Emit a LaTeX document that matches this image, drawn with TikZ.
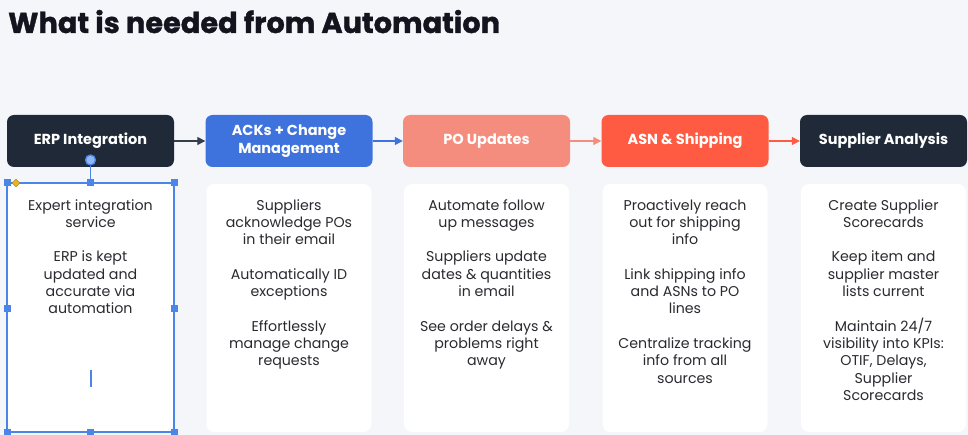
\documentclass[tikz,border=0pt]{standalone}
\usepackage{fontspec}
\setmainfont{Poppins}
\newfontfamily\titlefont{Poppins}[BoldFeatures={FakeBold=1.2}]
\usetikzlibrary{arrows.meta,shapes.geometric}
\definecolor{bgc}{HTML}{F4F6FA}
\definecolor{darkc}{HTML}{1F2937}
\definecolor{bluec}{HTML}{3E72DD}
\definecolor{salmonc}{HTML}{F58D7E}
\definecolor{redc}{HTML}{FF5A42}
\definecolor{selc}{HTML}{4A86E8}
\definecolor{yelc}{HTML}{E8B520}
\definecolor{txtc}{HTML}{2A2A30}
\definecolor{titlec}{HTML}{14141E}
\tikzset{
  head/.style={rounded corners=7pt, minimum width=167pt, minimum height=52pt,
    inner sep=0pt, align=center, text=white,
    font=\bfseries\fontsize{14.5}{18}\selectfont},
  bodybox/.style={rounded corners=8pt, fill=white, minimum width=165pt,
    minimum height=248pt, inner sep=0pt},
  bodytext/.style={anchor=north, inner sep=0pt, align=center, text=txtc,
    font=\fontsize{14.2}{17.3}\selectfont},
  flow/.style={line width=1.3pt, -{Triangle[length=8pt,width=8pt]}},
  handle/.style={fill=selc, minimum size=7pt, inner sep=0pt},
}
\begin{document}
\begin{tikzpicture}[x=1pt,y=-1pt]
\fill[bgc] (0,0) rectangle (968,435);
\useasboundingbox (0,0) rectangle (968,435);
% title
\node[anchor=base west, inner sep=0pt, text=titlec,
  font=\titlefont\bfseries\fontsize{28.8}{32}\selectfont] (title) at (8,33) {What is needed from Automation};
% headers
\node[head, fill=darkc] (h1) at (90.5,141) {ERP Integration};
\node[head, fill=bluec] (h2) at (289,141) {ACKs + Change\\Management};
\node[head, fill=salmonc] (h3) at (486.5,141) {PO Updates};
\node[head, fill=redc] (h4) at (685,141) {ASN \& Shipping};
\node[head, fill=darkc] (h5) at (883.5,141) {Supplier Analysis};
% arrows
\draw[flow, draw=darkc!90, fill=darkc!90] (h1) -- (h2);
\draw[flow, draw=bluec, fill=bluec] (h2) -- (h3);
\draw[flow, draw=salmonc, fill=salmonc] (h3) -- (h4);
\draw[flow, draw=redc, fill=redc] (h4) -- (h5);
% bodies
\node[bodybox] (b1) at (90.5,308) {};
\node[bodybox] (b2) at (289,308) {};
\node[bodybox] (b3) at (486.5,308) {};
\node[bodybox] (b4) at (685,308) {};
\node[bodybox] (b5) at (883.5,308) {};
\node[bodytext] (t1) at (90.5,199) {Expert integration\\service\\[17.3pt]ERP is kept\\updated and\\accurate via\\automation};
\node[bodytext] (t2) at (289,199) {Suppliers\\acknowledge POs\\in their email\\[17.3pt]Automatically ID\\exceptions\\[17.3pt]Effortlessly\\manage change\\requests};
\node[bodytext] (t3) at (486.5,199) {Automate follow\\up messages\\[17.3pt]Suppliers update\\dates \& quantities\\in email\\[17.3pt]See order delays \&\\problems right\\away};
\node[bodytext] (t4) at (685,199) {Proactively reach\\out for shipping\\info\\[17.3pt]Link shipping info\\and ASNs to PO\\lines\\[17.3pt]Centralize tracking\\info from all\\sources};
\node[bodytext] (t5) at (883.5,199) {Create Supplier\\Scorecards\\[17.3pt]Keep item and\\supplier master\\lists current\\[17.3pt]Maintain 24/7\\visibility into KPIs:\\OTIF, Delays,\\Supplier\\Scorecards};
% selection overlay on first body box
\draw[selc, line width=1.3pt] (7,183) rectangle (174,432);
\node[circle, draw=selc, fill=selc!60, line width=1.3pt, minimum size=10pt, inner sep=0pt] (rot) at (90.5,160) {};
\node[handle] (hn) at (90.5,183) {};
\draw[selc, line width=1.3pt] (rot) -- (hn);
\node[handle] (hnw) at (7,183) {};
\node[handle] (hne) at (174,183) {};
\node[handle] (hw) at (7,308) {};
\node[handle] (he) at (174,308) {};
\node[handle] (hsw) at (7,432) {};
\node[handle] (hs) at (90.5,432) {};
\node[handle] (hse) at (174,432) {};
\node[diamond, fill=yelc, draw=yelc!70!black, line width=0.4pt, minimum size=8pt, inner sep=0pt] (ydia) at (16,183) {};
\draw[selc, line width=1.3pt] (91,370) -- (91,387);
\end{tikzpicture}
\end{document}
